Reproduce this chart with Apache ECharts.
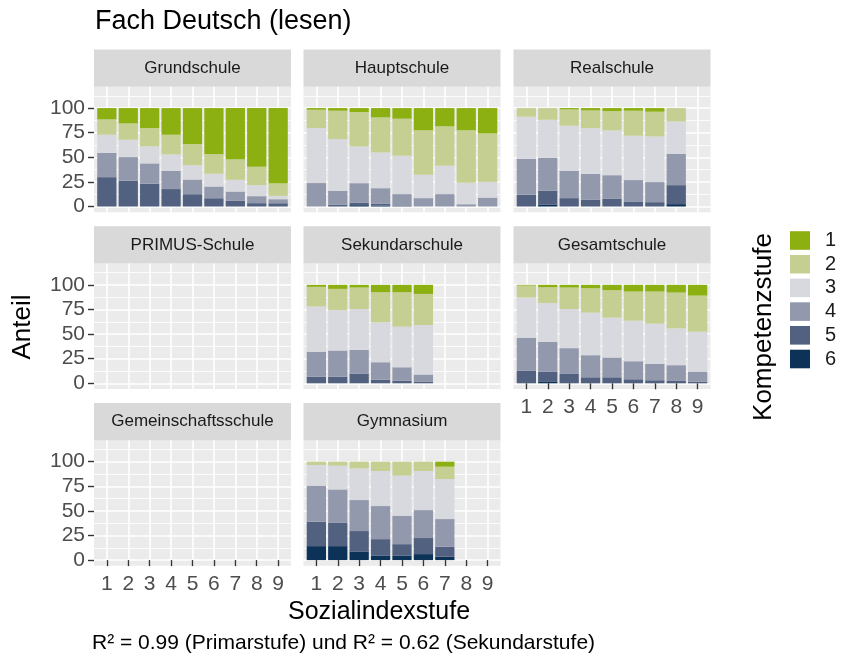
<!DOCTYPE html>
<html><head><meta charset="utf-8">
<script src="https://cdn.jsdelivr.net/npm/echarts@6/dist/echarts.min.js"></script>
<style>html,body{margin:0;padding:0;background:#fff}#c{width:841px;height:667px}</style>
</head><body><div id="c"></div>
<script>
// ---- data ----
const levels = ['1', '2', '3', '4', '5', '6'];
const xCategories = ['1', '2', '3', '4', '5', '6', '7', '8', '9'];
const yTicks = [0, 25, 50, 75, 100];
const yMinorTicks = [12.5, 37.5, 62.5, 87.5, 112.5];
const schools = ['Grundschule', 'Hauptschule', 'Realschule', 'PRIMUS-Schule', 'Sekundarschule', 'Gesamtschule', 'Gemeinschaftsschule', 'Gymnasium'];
const titleText = 'Fach Deutsch (lesen)';
const xTitle = 'Sozialindexstufe';
const yTitle = 'Anteil';
const legendTitle = 'Kompetenzstufe';
const captionText = 'R² = 0.99 (Primarstufe) und R² = 0.62 (Sekundarstufe)';

// shares (%) per Kompetenzstufe (rows 1..6) and Sozialindexstufe (columns 1..9)
const grundschule = [
  [11.5, 15.6, 20.3, 27.1, 36.6, 46.8, 51.9, 59.7, 76.3],
  [15.6, 16.6, 18.6, 20.0, 21.4, 20.0, 21.0, 18.6, 12.9],
  [18.5, 17.6, 17.3, 16.6, 14.6, 12.9, 11.9, 11.2, 3.4],
  [24.6, 24.1, 20.7, 18.6, 14.9, 11.9, 9.5, 7.1, 4.1],
  [29.8, 26.1, 23.1, 17.7, 12.5, 8.4, 5.7, 3.4, 3.3],
  [0, 0, 0, 0, 0, 0, 0, 0, 0]
];
const hauptschule = [
  [1.7, 2.7, 4.1, 9.5, 10.8, 22.4, 18.6, 22.4, 25.8],
  [18.6, 28.8, 34.9, 35.6, 37.6, 45.4, 40.0, 53.6, 49.2],
  [55.9, 52.5, 37.3, 36.3, 39.0, 23.7, 28.8, 21.7, 15.9],
  [23.8, 14.3, 19.7, 15.6, 11.5, 8.5, 12.6, 2.3, 9.1],
  [0, 1.7, 2.7, 2.0, 1.1, 0, 0, 0, 0],
  [0, 0, 1.3, 1.0, 0, 0, 0, 0, 0]
];
const realschule = [
  [0, 0, 1.4, 2.4, 3.1, 2.7, 3.7, 0, null],
  [8.8, 11.9, 16.6, 18.0, 19.7, 25.4, 25.1, 13.6, null],
  [42.7, 38.6, 45.8, 46.4, 45.4, 45.1, 46.4, 32.9, null],
  [36.6, 33.6, 27.7, 26.1, 23.7, 21.7, 20.4, 31.8, null],
  [11.9, 14.2, 8.5, 7.1, 8.1, 5.1, 4.4, 19.3, null],
  [0, 1.7, 0, 0, 0, 0, 0, 2.4, null]
];
const primusSchule = [];
const sekundarschule = [
  [2.0, 4.1, 2.7, 7.5, 7.5, 9.2, null, null, null],
  [20.0, 21.4, 21.8, 30.6, 35.0, 31.6, null, null, null],
  [45.9, 41.2, 41.5, 40.5, 41.2, 50.3, null, null, null],
  [25.3, 26.5, 24.1, 17.7, 13.6, 7.5, null, null, null],
  [6.8, 6.8, 9.9, 3.7, 2.7, 1.4, null, null, null],
  [0, 0, 0, 0, 0, 0, null, null, null]
];
const gesamtschule = [
  [0.7, 2.4, 2.7, 3.4, 5.4, 6.8, 6.8, 7.8, 10.9],
  [12.2, 16.0, 21.8, 24.8, 27.9, 29.6, 32.6, 36.4, 36.7],
  [40.8, 39.5, 39.8, 43.2, 40.5, 41.2, 40.8, 37.4, 40.5],
  [33.4, 30.5, 26.2, 22.5, 20.1, 18.3, 16.7, 16.0, 10.2],
  [12.9, 10.2, 9.5, 6.1, 6.1, 4.1, 3.1, 2.4, 1.7],
  [0, 1.4, 0, 0, 0, 0, 0, 0, 0]
];
const gemeinschaftsschule = [];
const gymnasium = [
  [0, 0, 0, 0, 0, 0, 5.1, null, null],
  [3.4, 4.1, 6.8, 9.5, 14.2, 9.5, 12.5, null, null],
  [21.0, 24.1, 32.2, 35.6, 40.7, 39.7, 40.7, null, null],
  [36.6, 33.6, 31.5, 33.6, 28.9, 28.4, 28.1, null, null],
  [24.8, 24.0, 20.7, 16.6, 11.5, 16.3, 10.2, null, null],
  [14.2, 14.2, 8.8, 4.7, 4.7, 6.1, 3.4, null, null]
];
const schoolData = [grundschule, hauptschule, realschule, primusSchule, sekundarschule, gesamtschule, gemeinschaftsschule, gymnasium];

// ---- styles / layout ----
const colors = ['#8CAF12', '#C5CF92', '#D8D9DE', '#9399AD', '#51617F', '#0D3258'];
const FONT = '"Liberation Sans", Arial, Helvetica, sans-serif';
const colLeft = [94, 303.5, 513.5];
const rowTop = [86.8, 263.6, 440.4];
const panelW = 197, panelH = 125.4, stripH = 37.4;
const yMin = -5.8, yMax = 121.6, xMin = 0.4, xMax = 9.6;
const inset = panelW * (0.1 / (xMax - xMin));
const xLabelPanels = [5, 6, 7];

const grids = [], xAxes = [], yAxes = [], series = [], graphics = [];

schools.forEach((name, i) => {
  const r = Math.floor(i / 3), c = i % 3;
  const left = colLeft[c], top = rowTop[r];
  const showX = xLabelPanels.includes(i);
  const showY = c === 0;
  // background grid with gridlines + axes
  grids.push({left: left, top: top, width: panelW, height: panelH, show: true,
    backgroundColor: '#EBEBEB', borderWidth: 0, containLabel: false, outerBoundsMode: 'none'});
  // bar grid
  grids.push({left: left + inset, top: top, width: panelW - 2 * inset, height: panelH, show: false,
    containLabel: false, outerBoundsMode: 'none'});
  const gA = 2 * i, gB = 2 * i + 1;
  xAxes.push({type: 'value', gridIndex: gA, min: xMin, max: xMax,
    axisLine: {show: false},
    axisTick: {show: showX, length: 6, customValues: xCategories.map(Number), lineStyle: {color: '#333333', width: 1.4}},
    axisLabel: {show: showX, customValues: xCategories.map(Number), margin: 8, fontSize: 21, color: '#4D4D4D', fontFamily: FONT,
      formatter: v => xCategories[Math.round(v) - 1]},
    splitLine: {show: true, lineStyle: {color: '#FFFFFF', width: 1.6}},
    minorSplitLine: {show: false}});
  xAxes.push({type: 'category', gridIndex: gB, data: xCategories, show: false, boundaryGap: true});
  yAxes.push({type: 'value', gridIndex: gA, min: yMin, max: yMax, position: 'left',
    axisLine: {show: false},
    axisTick: {show: showY, length: 6, customValues: yTicks, lineStyle: {color: '#333333', width: 1.4}},
    axisLabel: {show: showY, customValues: yTicks, margin: 9, fontSize: 21, color: '#4D4D4D', fontFamily: FONT,
      formatter: v => String(v)},
    splitLine: {show: true, lineStyle: {color: '#FFFFFF', width: 1.6}}});
  yAxes.push({type: 'value', gridIndex: gA, min: yMin, max: yMax, position: 'left', offset: 0,
    axisLine: {show: false},
    axisTick: {show: false, customValues: yMinorTicks},
    axisLabel: {show: false, customValues: yMinorTicks},
    splitLine: {show: true, lineStyle: {color: '#FFFFFF', width: 0.8}}});
  yAxes.push({type: 'value', gridIndex: gB, min: yMin, max: yMax, show: false, splitLine: {show: false}});

  const data = schoolData[i];
  if (data.length) {
    for (let L = levels.length - 1; L >= 0; L--) {
      series.push({type: 'bar', name: levels[L], xAxisIndex: 2 * i + 1, yAxisIndex: 3 * i + 2,
        stack: 'p' + i, data: data[L], barWidth: '90%', itemStyle: {color: colors[L]},
        silent: true, animation: false, emphasis: {disabled: true}});
    }
  }
  // strip
  graphics.push({type: 'rect', shape: {x: left, y: top - stripH, width: panelW, height: stripH},
    style: {fill: '#D9D9D9'}, silent: true});
  graphics.push({type: 'text', x: left + panelW / 2, y: top - stripH / 2,
    style: {text: name, font: '17px ' + FONT, fill: '#1A1A1A', textAlign: 'center', textVerticalAlign: 'middle',
      align: 'center', verticalAlign: 'middle'}, silent: true});
});

graphics.push({type: 'text', x: 95, y: 22,
  style: {text: titleText, font: '27px ' + FONT, fill: '#000000', textAlign: 'left', textVerticalAlign: 'middle', align: 'left', verticalAlign: 'middle'}});
graphics.push({type: 'text', x: 288, y: 612,
  style: {text: xTitle, font: '25px ' + FONT, fill: '#000000', textAlign: 'left', textVerticalAlign: 'middle', align: 'left', verticalAlign: 'middle'}});
graphics.push({type: 'text', x: 23, y: 327, rotation: Math.PI / 2,
  style: {text: yTitle, font: '26px ' + FONT, fill: '#000000', textAlign: 'center', textVerticalAlign: 'middle', align: 'center', verticalAlign: 'middle'}});
graphics.push({type: 'text', x: 764, y: 327, rotation: Math.PI / 2,
  style: {text: legendTitle, font: '26px ' + FONT, fill: '#000000', textAlign: 'center', textVerticalAlign: 'middle', align: 'center', verticalAlign: 'middle'}});
graphics.push({type: 'text', x: 92, y: 643,
  style: {text: captionText, font: '21px ' + FONT, fill: '#000000', textAlign: 'left', textVerticalAlign: 'middle', align: 'left', verticalAlign: 'middle'}});

const chart = echarts.init(document.getElementById('c'), null, {renderer: 'canvas'});
chart.setOption({
  animation: false,
  backgroundColor: '#FFFFFF',
  grid: grids, xAxis: xAxes, yAxis: yAxes, series: series,
  legend: {data: levels, orient: 'vertical', left: 790, top: 230.5, padding: 0,
    itemWidth: 20, itemHeight: 18.6, itemGap: 3.7, icon: 'rect', selectedMode: false,
    textStyle: {fontSize: 20, color: '#1A1A1A', fontFamily: FONT, lineHeight: 18.6, padding: [0, 0, 0, 10]}},
  tooltip: {show: false},
  graphic: graphics
});
</script></body></html>
